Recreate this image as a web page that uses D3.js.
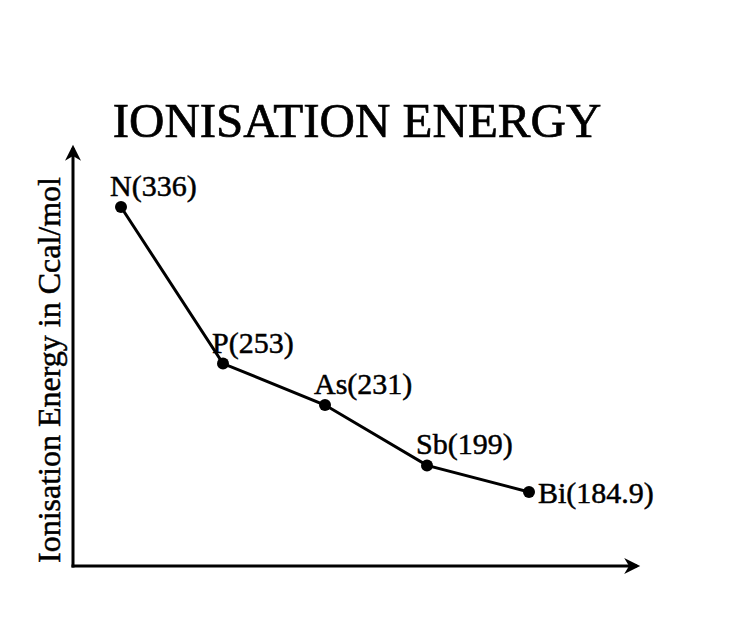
<!DOCTYPE html>
<html><head><meta charset="utf-8">
<script src="https://cdn.jsdelivr.net/npm/d3@7"></script>
<style>body{margin:0;background:#fff}</style>
</head><body>
<svg id="c" width="745" height="629"></svg>
<script>
const elements = ["N","P","As","Sb","Bi"];
const energies = [336, 253, 231, 199, 184.9];
const valueLabels = ["336","253","231","199","184.9"];
const titleText = "IONISATION ENERGY";
const yAxisLabel = "Ionisation Energy in Ccal/mol";

const svg = d3.select("#c");
const font = "'Liberation Serif','Times New Roman',serif";
const x = d3.scalePoint().domain(elements).range([121, 529]);
const y = d3.scaleLinear().domain([184.9, 336]).range([492, 207]);
const data = elements.map((e,i)=>({e, v:energies[i], l:valueLabels[i], i}));

const defs = svg.append("defs");
defs.append("marker").attr("id","arr").attr("viewBox","0 0 10 10").attr("refX",8).attr("refY",5)
  .attr("orient","auto-start-reverse").attr("markerUnits","userSpaceOnUse")
  .attr("markerWidth",18).attr("markerHeight",16)
  .append("path").attr("d","M0,0 L10,5 L0,10 L3,5 Z").attr("fill","#000");

const ox = 73, oy = 566;
svg.append("line").attr("x1",ox).attr("y1",oy+1.5).attr("x2",ox).attr("y2",148)
  .attr("stroke","#000").attr("stroke-width",3).attr("marker-end","url(#arr)");
svg.append("line").attr("x1",ox-1.5).attr("y1",oy).attr("x2",637).attr("y2",oy)
  .attr("stroke","#000").attr("stroke-width",3).attr("marker-end","url(#arr)");

svg.append("text").attr("x",357).attr("y",137).attr("text-anchor","middle")
  .attr("font-family",font).attr("font-size",49).attr("stroke","#000").attr("stroke-width",0.7)
  .text(titleText);

svg.append("text").attr("transform","translate(60,370) rotate(-90)").attr("text-anchor","middle")
  .attr("font-family",font).attr("font-size",32).attr("stroke","#000").attr("stroke-width",0.5)
  .text(yAxisLabel);

const line = d3.line().x(d=>x(d.e)).y(d=>y(d.v));
svg.append("path").datum(data).attr("d",line).attr("fill","none").attr("stroke","#000").attr("stroke-width",3);

svg.selectAll("circle.pt").data(data).join("circle").attr("class","pt")
  .attr("cx",d=>x(d.e)).attr("cy",d=>y(d.v)).attr("r",6).attr("fill","#000");

svg.selectAll("text.lbl").data(data).join("text").attr("class","lbl")
  .attr("font-family",font).attr("font-size",30).attr("stroke","#000").attr("stroke-width",0.5)
  .attr("x",d=> d.i===data.length-1 ? x(d.e)+9 : x(d.e)-11)
  .attr("y",d=> d.i===data.length-1 ? y(d.v)+11 : y(d.v)-11)
  .text(d=>`${d.e}(${d.l})`);
</script>
</body></html>
